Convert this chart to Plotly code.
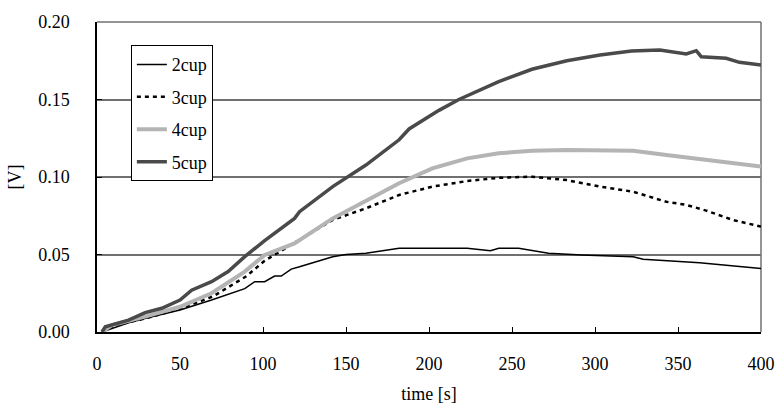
import plotly.graph_objects as go

# ---- data ----
t_2cup = [3, 19, 30, 50, 69, 89, 95, 101, 107, 111, 117, 122, 142, 150, 162, 182, 223, 237, 242, 254, 272, 292, 323, 329, 363, 383, 400]
v_2cup = [0, 0.006, 0.009, 0.0142, 0.0206, 0.028, 0.0325, 0.0325, 0.0361, 0.0361, 0.0406, 0.0421, 0.0486, 0.050, 0.0508, 0.054, 0.054, 0.0525, 0.054, 0.054, 0.0508, 0.0497, 0.0486, 0.0469, 0.0447, 0.0426, 0.041]

t_3cup = [3, 10, 30, 50, 70, 90, 101, 122, 142, 162, 182, 202, 223, 242, 262, 283, 303, 323, 343, 355, 367, 383, 400]
v_3cup = [0, 0.004, 0.009, 0.015, 0.023, 0.036, 0.046, 0.0594, 0.0723, 0.0798, 0.0884, 0.0938, 0.0974, 0.0995, 0.1002, 0.098, 0.0938, 0.0905, 0.084, 0.082, 0.0783, 0.0723, 0.068]

t_4cup = [3, 9, 29, 50, 69, 89, 101, 119, 142, 162, 182, 202, 223, 242, 262, 283, 303, 323, 343, 373, 400]
v_4cup = [0, 0.0045, 0.0099, 0.0163, 0.025, 0.039, 0.0497, 0.0572, 0.0733, 0.085, 0.096, 0.1056, 0.112, 0.1153, 0.117, 0.1174, 0.1175, 0.117, 0.1142, 0.110, 0.1067]

t_5cup = [3, 5, 19, 29, 39, 50, 57, 69, 79, 89, 101, 119, 122, 142, 162, 182, 188, 206, 218, 242, 262, 283, 303, 322, 339, 355, 361, 364, 379, 387, 400]
v_5cup = [0, 0.0034, 0.0077, 0.0125, 0.0153, 0.0206, 0.027, 0.0325, 0.039, 0.0486, 0.059, 0.0733, 0.0776, 0.0938, 0.1077, 0.124, 0.131, 0.143, 0.150, 0.1615, 0.1695, 0.175, 0.1787, 0.1813, 0.182, 0.1794, 0.1815, 0.1776, 0.1766, 0.174, 0.1723]

x_ticks = [0, 50, 100, 150, 200, 250, 300, 350, 400]
y_ticks = [0.00, 0.05, 0.10, 0.15, 0.20]
y_tick_labels = ["0.00", "0.05", "0.10", "0.15", "0.20"]

FONT = "Liberation Serif"
FS = 18

fig = go.Figure()
fig.add_trace(go.Scatter(x=t_2cup, y=v_2cup, mode="lines", name="2cup", legendgroup="a",
                         line=dict(color="black", width=1.5)))
fig.add_trace(go.Scatter(x=t_3cup, y=v_3cup, mode="lines", name="3cup", legendgroup="b",
                         line=dict(color="black", width=2.5, dash="4px,4px")))
fig.add_trace(go.Scatter(x=t_4cup, y=v_4cup, mode="lines", name="4cup", legendgroup="c",
                         line=dict(color="#b4b4b4", width=4)))
fig.add_trace(go.Scatter(x=t_5cup, y=v_5cup, mode="lines", name="5cup", legendgroup="d",
                         line=dict(color="#4a4a4a", width=3.5)))

fig.update_layout(
    template="none",
    width=775, height=411,
    margin=dict(l=97, r=14, t=22, b=79, autoexpand=False),
    paper_bgcolor="white", plot_bgcolor="white",
    font=dict(family=FONT, size=FS, color="black"),
    showlegend=True,
    legend=dict(x=0.051, y=0.925, xanchor="left", yanchor="top",
                bgcolor="white", bordercolor="black", borderwidth=1,
                font=dict(family=FONT, size=FS),
                traceorder="grouped", tracegroupgap=6),
    xaxis=dict(range=[0, 400], tickvals=x_ticks, ticks="inside", ticklen=5,
               tickcolor="black", showline=True, linecolor="black", linewidth=1.5,
               showgrid=False, zeroline=False, ticklabelstandoff=15, automargin=False,
               tickfont=dict(family=FONT, size=FS),
               title=dict(text="time [s]", font=dict(family=FONT, size=FS), standoff=14)),
    yaxis=dict(range=[0, 0.2], tickvals=y_ticks, ticktext=y_tick_labels,
               ticks="inside", ticklen=5, tickcolor="black",
               showline=True, linecolor="black", linewidth=1.5,
               showgrid=True, gridcolor="#707070", gridwidth=1.5, zeroline=False,
               ticklabelstandoff=22, automargin=False, tickfont=dict(family=FONT, size=FS),
               title=dict(text="[V]", font=dict(family=FONT, size=FS), standoff=12)),
    shapes=[
        dict(type="line", xref="paper", yref="paper", x0=0, x1=1, y0=1, y1=1,
             line=dict(color="#707070", width=1.5), layer="below"),
        dict(type="line", xref="paper", yref="paper", x0=1, x1=1, y0=0, y1=1,
             line=dict(color="#707070", width=1.5), layer="below"),
    ],
)

fig.write_html("out.html", config={"displayModeBar": False},
               post_script="document.body.style.margin='0';document.body.style.overflow='hidden';")
